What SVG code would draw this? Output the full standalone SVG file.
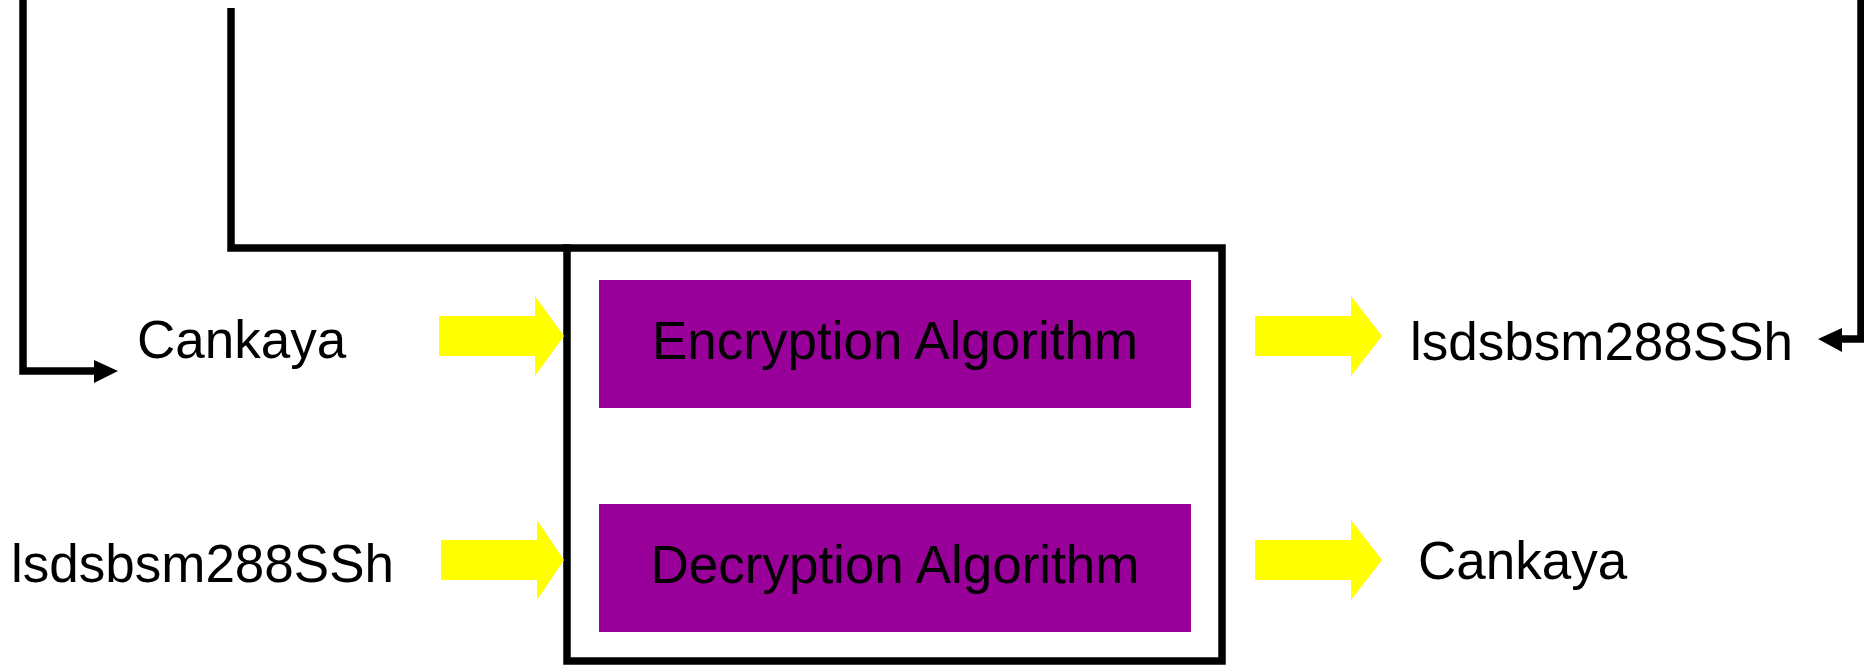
<svg xmlns="http://www.w3.org/2000/svg" width="1864" height="665" viewBox="0 0 1864 665">
<style>
.t{font-family:"Liberation Sans",Arial,sans-serif;font-size:53px;fill:#000}
.ln{fill:none;stroke:#000;stroke-width:7.5;stroke-linecap:butt;stroke-linejoin:miter}
.yel{fill:#FFFF00}
.pur{fill:#990099}
</style>
<rect width="1864" height="665" fill="#fff"/>
<g id="outer-box">
<rect x="567" y="248" width="655" height="413" fill="none" stroke="#000" stroke-width="7.5"/>
</g>
<g id="encryption">
<rect class="pur" x="599" y="280" width="592" height="128"/>
<text class="t" x="895" y="359" text-anchor="middle">Encryption Algorithm</text>
</g>
<g id="decryption">
<rect class="pur" x="599" y="504" width="592" height="128"/>
<text class="t" x="895" y="583" text-anchor="middle">Decryption Algorithm</text>
</g>
<g id="plain-in">
<text class="t" x="137" y="358">Cankaya</text>
</g>
<g id="cipher-out">
<text class="t" x="1410" y="360">lsdsbsm288SSh</text>
</g>
<g id="cipher-in">
<text class="t" x="11" y="582">lsdsbsm288SSh</text>
</g>
<g id="plain-out">
<text class="t" x="1418" y="579">Cankaya</text>
</g>
<g id="connectors">
<polygon class="yel" points="439,316 535,316 535,296 564,336 535,376 535,356 439,356"/>
<polygon class="yel" points="441,540 537,540 537,520 564,560 537,600 537,580 441,580"/>
<polygon class="yel" points="1255,316 1351,316 1351,296 1382,336 1351,376 1351,356 1255,356"/>
<polygon class="yel" points="1255,540 1351,540 1351,520 1382,560 1351,600 1351,580 1255,580"/>
<polyline class="ln" points="23,0 23,371 94,371"/>
<polygon points="94,360 118,371 94,383" fill="#000"/>
<polyline class="ln" points="231,8 231,248 570,248"/>
<polyline class="ln" points="1861,0 1861,339 1842,339"/>
<polygon points="1842,328 1818,339 1842,352" fill="#000"/>
</g>
</svg>
